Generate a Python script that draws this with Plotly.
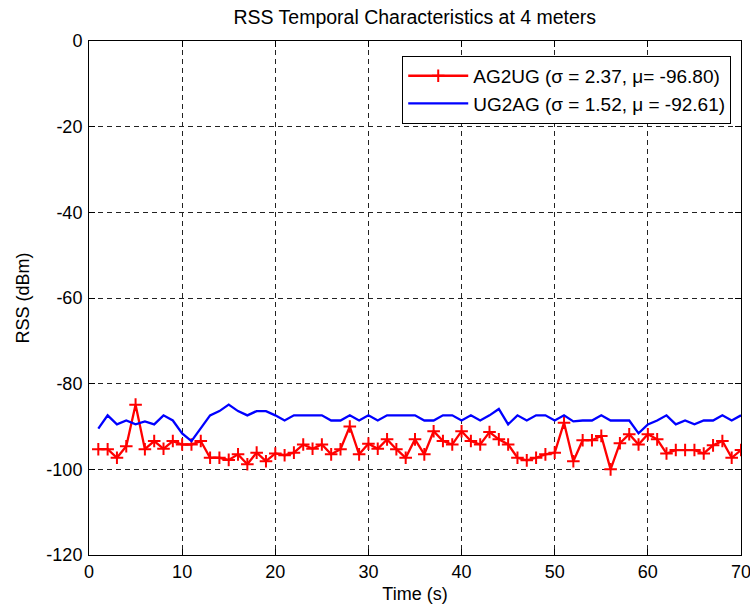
import plotly.graph_objects as go

time_s = list(range(1, 71))
ag2ug = [-95.3, -95.3, -97.3, -94.6, -84.9, -95.3, -93.4, -95.2, -93.4, -94.2,
         -94.2, -93.4, -97.3, -97.3, -97.8, -96.5, -98.8, -96.1, -98.1, -96.3,
         -96.7, -96.1, -94.2, -95.2, -94.2, -96.5, -95.3, -90.0, -96.5, -94.0,
         -95.2, -93.0, -95.3, -97.3, -93.0, -96.5, -91.1, -93.4, -94.2, -91.1,
         -93.4, -94.2, -91.3, -93.0, -94.2, -97.3, -97.9, -97.3, -96.5, -96.1,
         -89.1, -98.1, -93.2, -93.2, -92.2, -100.0, -93.9, -91.8, -94.2, -91.8,
         -93.0, -96.3, -95.5, -95.5, -95.5, -96.3, -94.4, -93.4, -97.3, -95.5]
ug2ag = [-90.5, -87.4, -89.5, -88.6, -89.5, -88.8, -89.5, -87.4, -88.6, -91.6,
         -93.4, -90.5, -87.4, -86.4, -84.9, -86.4, -87.4, -86.4, -86.4, -87.4,
         -88.6, -87.4, -87.4, -87.4, -87.4, -88.6, -88.6, -87.4, -88.6, -87.4,
         -88.6, -87.4, -87.4, -87.4, -87.4, -88.6, -88.6, -87.4, -87.4, -88.6,
         -87.4, -88.6, -87.4, -85.9, -89.5, -87.4, -88.6, -87.4, -87.4, -88.6,
         -87.4, -88.8, -88.6, -88.6, -87.4, -88.6, -88.6, -88.6, -91.6, -89.5,
         -88.6, -87.4, -89.5, -88.6, -89.5, -88.6, -88.6, -87.4, -88.6, -87.4]
names = ["AG2UG (σ = 2.37, μ= -96.80)", "UG2AG (σ = 1.52, μ = -92.61)"]
x_ticks = [0, 10, 20, 30, 40, 50, 60, 70]
y_ticks = [0, -20, -40, -60, -80, -100, -120]
y_tick_text = ["0", "-20", "-40", "-60", "-80", "-100", "-120"]

fig = go.Figure()
fig.add_trace(go.Scatter(x=time_s, y=ag2ug, mode="lines+markers", name=names[0],
                         line=dict(color="red", width=2.3),
                         marker=dict(symbol="cross-thin", size=9,
                                     line=dict(color="red", width=2), color="red")))
fig.add_trace(go.Scatter(x=time_s, y=ug2ag, mode="lines", name=names[1],
                         line=dict(color="blue", width=2.3)))

axis_common = dict(showline=True, linecolor="black", linewidth=1, mirror="ticks",
                   ticks="inside", ticklen=6, tickcolor="black",
                   showgrid=True, gridcolor="#222222", griddash="5px,4px", gridwidth=1,
                   zeroline=False, automargin=False, ticklabeloverflow="allow",
                   tickfont=dict(size=18, color="black"))
fig.update_xaxes(range=[0, 70], tickvals=x_ticks,
                 title=dict(text="Time (s)", font=dict(size=18, color="black"), standoff=6),
                 **axis_common)
fig.update_yaxes(range=[-120, 0], tickvals=y_ticks, ticktext=y_tick_text,
                 ticklabelstandoff=2,
                 title=dict(text="RSS (dBm)", font=dict(size=18, color="black"), standoff=12),
                 **axis_common)
fig.update_layout(
    width=750, height=607,
    margin=dict(l=89, r=9, t=41, b=52),
    paper_bgcolor="white", plot_bgcolor="white",
    font=dict(family="Liberation Sans, Arial, sans-serif", color="black"),
    title=dict(text="RSS Temporal Characteristics at 4 meters", x=0.553, xanchor="center",
               y=0.971, yanchor="middle", font=dict(size=19.5, color="black")),
    legend=dict(x=0.985, y=0.971, xanchor="right", yanchor="top",
                bgcolor="white", bordercolor="black", borderwidth=1,
                font=dict(size=19, color="black"), tracegroupgap=0, itemwidth=60),
    showlegend=True,
)
fig.write_html("out.html")
